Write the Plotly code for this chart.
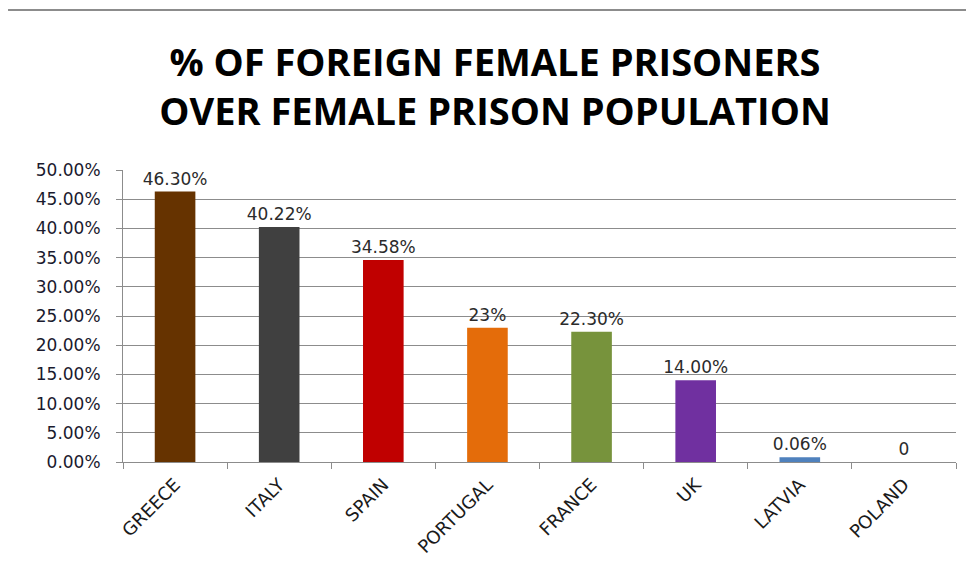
import plotly.graph_objects as go

countries = ["GREECE", "ITALY", "SPAIN", "PORTUGAL", "FRANCE", "UK", "LATVIA", "POLAND"]
values = [0.463, 0.4022, 0.3458, 0.23, 0.223, 0.14, 0.008, 0.0]
labels = ["46.30%", "40.22%", "34.58%", "23%", "22.30%", "14.00%", "0.06%", "0"]
colors = ["#663300", "#404040", "#C00000", "#E46C0A", "#77933C", "#7030A0", "#4F81BD", "#4F81BD"]
y_ticks = [i * 0.05 for i in range(11)]
y_tick_text = ["%.2f%%" % (v * 100) for v in y_ticks]

fig = go.Figure(go.Bar(
    x=countries, y=values, marker_color=colors, marker_line_width=0,
    text=labels, textposition="outside", cliponaxis=False, constraintext="none",
    textfont=dict(family="DejaVu Sans", size=17, color="#2b2b2b"),
    width=0.39,
))

fig.update_layout(
    width=974, height=588,
    paper_bgcolor="white", plot_bgcolor="white",
    margin=dict(l=115, r=26, t=162, b=134),
    title=dict(
        text="<b>% OF FOREIGN FEMALE PRISONERS<br>OVER FEMALE PRISON POPULATION</b>",
        x=0.5, xanchor="center", y=0.885, yanchor="top",
        font=dict(family="Open Sans, DejaVu Sans", size=38, color="#000000"),
    ),
    showlegend=False,
    shapes=[dict(type="line", xref="paper", yref="paper", x0=-0.138, x1=1.031, y0=1.548, y1=1.548,
                 line=dict(color="#8c8c8c", width=2))],
)
fig.update_yaxes(
    range=[0, 0.5], tickvals=y_ticks, ticktext=y_tick_text,
    showgrid=True, gridcolor="#8c8c8c", gridwidth=1,
    showline=True, linecolor="#8c8c8c", linewidth=1,
    ticks="outside", ticklen=6, tickcolor="#8c8c8c", ticklabelstandoff=12,
    tickfont=dict(family="DejaVu Sans", size=17, color="#1a1a2e"),
    zeroline=False, fixedrange=True,
)
fig.update_xaxes(
    showline=True, linecolor="#8c8c8c", linewidth=1,
    ticks="outside", ticklen=6, tickcolor="#8c8c8c", tickson="boundaries",
    tickangle=-45, tickfont=dict(family="DejaVu Sans", size=18, color="#1a1a1a"),
    ticklabelstandoff=4, showgrid=False,
)

fig.write_html("out.html")
